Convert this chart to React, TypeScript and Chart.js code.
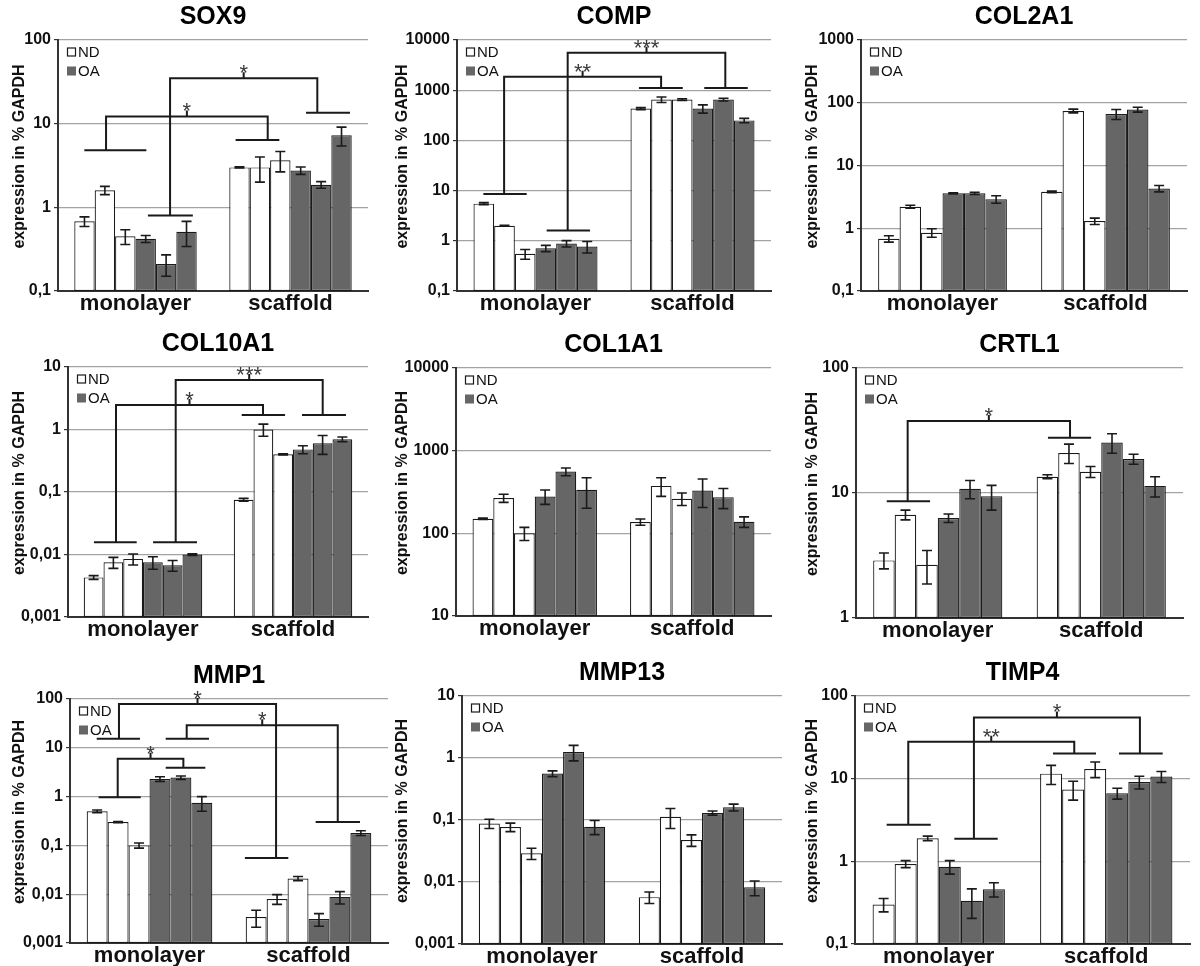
import React, { useEffect, useRef } from 'react';
import { Chart, registerables } from 'chart.js';

Chart.register(...registerables);

const FONT = '"Liberation Sans", Arial, Helvetica, sans-serif';

const categories = ['monolayer', 'scaffold'];
const groups = ['ND', 'OA'];
const yAxisTitle = 'expression in % GAPDH';

// ---- SOX9 ----
const sox9Ticks = [0.1, 1, 10, 100];
const sox9Mono = [0.68, 1.6, 0.45, 0.42, 0.21, 0.51];
const sox9MonoErr = [0.09, 0.18, 0.09, 0.04, 0.06, 0.17];
const sox9Scaf = [3.0, 3.0, 3.65, 2.76, 1.86, 7.25];
const sox9ScafErr = [0.05, 1.0, 1.0, 0.28, 0.17, 1.85];
const sox9Lines: [number, number, number][] = [[-0.33, 0.07, 4.8], [0.08, 0.37, 0.8], [0.646, 0.928, 6.4], [1.1, 1.384, 13.5]];
const sox9Brackets: [number, number, number, number, number, string][] = [[-0.19, 0, 0.853, 2, 12.2, '*'], [0.223, 1, 1.173, 3, 35, '*']];

// ---- COMP ----
const compTicks = [0.1, 1, 10, 100, 1000, 10000];
const compMono = [5.5, 2.0, 0.55, 0.71, 0.88, 0.77];
const compMonoErr = [0.25, 0.03, 0.12, 0.1, 0.13, 0.2];
const compScaf = [430, 650, 650, 430, 650, 250];
const compScafErr = [20, 80, 25, 80, 40, 25];
const compLines: [number, number, number][] = [[-0.332, -0.056, 8.6], [0.071, 0.347, 1.6], [0.659, 0.938, 1110], [1.075, 1.352, 1110]];
const compBrackets: [number, number, number, number, number, string][] = [[-0.2, 0, 0.8, 2, 1850, '**'], [0.205, 1, 1.209, 3, 5580, '***']];

// ---- COL2A1 ----
const col2Ticks = [0.1, 1, 10, 100, 1000];
const col2Mono = [0.68, 2.2, 0.85, 3.6, 3.6, 2.9];
const col2MonoErr = [0.08, 0.12, 0.13, 0.08, 0.15, 0.4];
const col2Scaf = [3.8, 74, 1.3, 66, 78, 4.3];
const col2ScafErr = [0.1, 5, 0.15, 12, 7, 0.5];

// ---- COL10A1 ----
const col10Ticks = [0.001, 0.01, 0.1, 1, 10];
const col10Mono = [0.0043, 0.0075, 0.0085, 0.0075, 0.0067, 0.01];
const col10MonoErr = [0.0003, 0.0015, 0.0017, 0.0017, 0.0013, 0.0003];
const col10Scaf = [0.075, 1.0, 0.4, 0.48, 0.6, 0.7];
const col10ScafErr = [0.004, 0.22, 0.01, 0.07, 0.2, 0.06];
const col10Lines: [number, number, number][] = [[-0.327, -0.042, 0.0157], [0.067, 0.36, 0.0157], [0.658, 0.947, 1.7], [1.06, 1.353, 1.7]];
const col10Brackets: [number, number, number, number, number, string][] = [[-0.18, 0, 0.8, 2, 2.47, '*'], [0.218, 1, 1.198, 3, 6.2, '***']];

// ---- COL1A1 ----
const col1Ticks = [10, 100, 1000, 10000];
const col1Mono = [150, 267, 100, 279, 558, 336];
const col1MonoErr = [3, 30, 18, 55, 60, 135];
const col1Scaf = [137, 375, 262, 330, 274, 138];
const col1ScafErr = [12, 95, 45, 125, 75, 20];

// ---- CRTL1 ----
const crtlTicks = [1, 10, 100];
const crtlMono = [2.89, 6.7, 2.67, 6.3, 10.8, 9.4];
const crtlMonoErr = [0.42, 0.6, 0.8, 0.5, 1.8, 2.1];
const crtlScaf = [13.5, 20.9, 14.8, 25.3, 18.7, 11.4];
const crtlScafErr = [0.5, 3.7, 1.5, 4.5, 1.7, 2.1];
const crtlLines: [number, number, number][] = [[-0.312, -0.047, 8.6], [0.674, 0.938, 27.7]];
const crtlBrackets: [number, number, number, number, number, string][] = [[-0.184, 0, 0.809, 1, 37.7, '*']];

// ---- MMP1 ----
const mmp1Ticks = [0.001, 0.01, 0.1, 1, 10, 100];
const mmp1Mono = [0.5, 0.3, 0.1, 2.3, 2.45, 0.75];
const mmp1MonoErr = [0.03, 0.008, 0.012, 0.25, 0.2, 0.25];
const mmp1Scaf = [0.0034, 0.008, 0.021, 0.0031, 0.0088, 0.18];
const mmp1ScafErr = [0.0013, 0.0018, 0.002, 0.0009, 0.0025, 0.02];
const mmp1Lines: [number, number, number][] = [[-0.32, -0.055, 0.97], [0.102, 0.351, 3.9], [-0.332, -0.06, 15.3], [0.102, 0.374, 15.3], [0.6, 0.873, 0.055], [1.045, 1.324, 0.3]];
const mmp1Brackets: [number, number, number, number, number, string][] = [[-0.2, 0, 0.213, 1, 6.0, '*'], [-0.192, 2, 0.796, 4, 79, '*'], [0.234, 3, 1.184, 5, 29, '*']];

// ---- MMP13 ----
const mmp13Ticks = [0.001, 0.01, 0.1, 1, 10];
const mmp13Mono = [0.088, 0.077, 0.029, 0.56, 1.25, 0.078];
const mmp13MonoErr = [0.015, 0.012, 0.006, 0.06, 0.35, 0.02];
const mmp13Scaf = [0.0057, 0.113, 0.0475, 0.13, 0.16, 0.0082];
const mmp13ScafErr = [0.0012, 0.04, 0.01, 0.01, 0.02, 0.0022];

// ---- TIMP4 ----
const timp4Ticks = [0.1, 1, 10, 100];
const timp4Mono = [0.3, 0.93, 1.9, 0.86, 0.334, 0.46];
const timp4MonoErr = [0.055, 0.09, 0.12, 0.16, 0.13, 0.09];
const timp4Scaf = [11.5, 7.4, 13.1, 6.65, 9.1, 10.6];
const timp4ScafErr = [3, 1.9, 2.8, 1, 1.6, 1.6];
const timp4Lines: [number, number, number][] = [[-0.311, -0.048, 2.78], [0.093, 0.352, 1.88], [0.682, 0.939, 20.2], [1.076, 1.337, 20.2]];
const timp4Brackets: [number, number, number, number, number, string][] = [[-0.182, 0, 0.809, 2, 28, '**'], [0.21, 1, 1.201, 3, 55, '*']];

interface PanelData {
  title: string;
  ticks: number[];
  mono: number[];
  monoErr: number[];
  scaf: number[];
  scafErr: number[];
  lines: [number, number, number][];
  brackets: [number, number, number, number, number, string][];
}

const panels: PanelData[] = [
  { title: 'SOX9', ticks: sox9Ticks, mono: sox9Mono, monoErr: sox9MonoErr, scaf: sox9Scaf, scafErr: sox9ScafErr, lines: sox9Lines, brackets: sox9Brackets },
  { title: 'COMP', ticks: compTicks, mono: compMono, monoErr: compMonoErr, scaf: compScaf, scafErr: compScafErr, lines: compLines, brackets: compBrackets },
  { title: 'COL2A1', ticks: col2Ticks, mono: col2Mono, monoErr: col2MonoErr, scaf: col2Scaf, scafErr: col2ScafErr, lines: [], brackets: [] },
  { title: 'COL10A1', ticks: col10Ticks, mono: col10Mono, monoErr: col10MonoErr, scaf: col10Scaf, scafErr: col10ScafErr, lines: col10Lines, brackets: col10Brackets },
  { title: 'COL1A1', ticks: col1Ticks, mono: col1Mono, monoErr: col1MonoErr, scaf: col1Scaf, scafErr: col1ScafErr, lines: [], brackets: [] },
  { title: 'CRTL1', ticks: crtlTicks, mono: crtlMono, monoErr: crtlMonoErr, scaf: crtlScaf, scafErr: crtlScafErr, lines: crtlLines, brackets: crtlBrackets },
  { title: 'MMP1', ticks: mmp1Ticks, mono: mmp1Mono, monoErr: mmp1MonoErr, scaf: mmp1Scaf, scafErr: mmp1ScafErr, lines: mmp1Lines, brackets: mmp1Brackets },
  { title: 'MMP13', ticks: mmp13Ticks, mono: mmp13Mono, monoErr: mmp13MonoErr, scaf: mmp13Scaf, scafErr: mmp13ScafErr, lines: [], brackets: [] },
  { title: 'TIMP4', ticks: timp4Ticks, mono: timp4Mono, monoErr: timp4MonoErr, scaf: timp4Scaf, scafErr: timp4ScafErr, lines: timp4Lines, brackets: timp4Brackets },
];

// ---- layout (page pixels) ----
const colBounds = [[0, 390], [390, 795], [795, 1200]];
const rowBounds = [[0, 322], [322, 644], [644, 966]];
const yTitleCenter = [20, 403, 813];
// [axisX, plotRight, plotTop, plotBottom]
const plotBoxes = [
  [58, 368, 40, 291], [457, 771, 40, 291], [861, 1187, 40, 291],
  [68, 368, 367, 617], [456, 771, 368, 616], [856, 1183, 368, 618],
  [70, 388, 699, 943], [462, 782, 696, 944], [855, 1190, 696, 944],
];

const WHITE = '#ffffff';
const GRAY = '#666666';
const INK = '#1a1a1a';

const fmt = (v: number) => String(v).replace('.', ',');

function Panel({ data, index }: { data: PanelData; index: number }) {
  const ref = useRef<HTMLCanvasElement>(null);
  const col = index % 3;
  const row = Math.floor(index / 3);
  const [cl, cr] = colBounds[col];
  const [rt, rb] = rowBounds[row];
  const w = cr - cl;
  const h = rb - rt;
  const [axisX, plotRight, plotTop, plotBottom] = plotBoxes[index];

  useEffect(() => {
    const canvas = ref.current!;
    const datasets = [0, 1, 2, 3, 4, 5].map((i) => ({
      label: groups[i < 3 ? 0 : 1],
      data: [data.mono[i], data.scaf[i]],
      backgroundColor: i < 3 ? WHITE : GRAY,
      borderColor: INK,
      borderWidth: 1.2,
      borderSkipped: false,
      categoryPercentage: 0.79,
      barPercentage: 1.0,
    }));

    const overlay = {
      id: 'overlay',
      afterDatasetsDraw(chart: any) {
        const ctx = chart.ctx;
        const xs = chart.scales.x;
        const ys = chart.scales.y;
        ctx.save();
        // error bars
        ctx.strokeStyle = INK;
        ctx.lineWidth = 1.6;
        for (let i = 0; i < 6; i++) {
          const meta = chart.getDatasetMeta(i);
          meta.data.forEach((el: any, j: number) => {
            const v = j === 0 ? data.mono[i] : data.scaf[i];
            const e = j === 0 ? data.monoErr[i] : data.scafErr[i];
            const yT = ys.getPixelForValue(v + e);
            const yB = ys.getPixelForValue(Math.max(v - e, ys.min));
            const x = el.x;
            ctx.beginPath();
            ctx.moveTo(x, yT);
            ctx.lineTo(x, yB);
            ctx.moveTo(x - 5, yT);
            ctx.lineTo(x + 5, yT);
            ctx.moveTo(x - 5, yB);
            ctx.lineTo(x + 5, yB);
            ctx.stroke();
          });
        }
        // group lines
        ctx.lineWidth = 2;
        ctx.strokeStyle = INK;
        data.lines.forEach(([x1, x2, v]) => {
          const y = ys.getPixelForValue(v);
          ctx.beginPath();
          ctx.moveTo(xs.getPixelForValue(x1), y);
          ctx.lineTo(xs.getPixelForValue(x2), y);
          ctx.stroke();
        });
        // brackets
        data.brackets.forEach(([xl, li, xr, ri, top, label]) => {
          const yT = ys.getPixelForValue(top);
          const yl = ys.getPixelForValue(data.lines[li][2]);
          const yr = ys.getPixelForValue(data.lines[ri][2]);
          const pl = xs.getPixelForValue(xl);
          const pr = xs.getPixelForValue(xr);
          const xm = (pl + pr) / 2;
          ctx.beginPath();
          ctx.moveTo(pl, yl);
          ctx.lineTo(pl, yT);
          ctx.lineTo(pr, yT);
          ctx.lineTo(pr, yr);
          ctx.moveTo(xm, yT);
          ctx.lineTo(xm, yT - 6);
          ctx.stroke();
          ctx.fillStyle = '#3a3a3a';
          ctx.font = `22px ${FONT}`;
          ctx.textAlign = 'center';
          ctx.textBaseline = 'alphabetic';
          ctx.fillText(label, xm, yT + 2);
        });
        ctx.restore();
      },
      afterDraw(chart: any) {
        const ctx = chart.ctx;
        const a = chart.chartArea;
        ctx.save();
        // title
        ctx.fillStyle = '#000';
        ctx.font = `bold 25px ${FONT}`;
        ctx.textAlign = 'center';
        ctx.textBaseline = 'middle';
        ctx.fillText(data.title, (a.left + a.right) / 2, a.top - 23);
        // y axis title
        ctx.save();
        ctx.translate(yTitleCenter[col] - cl, (a.top + a.bottom) / 2 - 9);
        ctx.rotate(-Math.PI / 2);
        ctx.font = `bold 16px ${FONT}`;
        ctx.fillStyle = '#111';
        ctx.textAlign = 'center';
        ctx.textBaseline = 'middle';
        ctx.fillText(yAxisTitle, 0, 0);
        ctx.restore();
        // legend
        ctx.font = `15px ${FONT}`;
        ctx.textAlign = 'left';
        ctx.textBaseline = 'middle';
        groups.forEach((g, k) => {
          const cy = a.top + 12 + k * 19;
          ctx.fillStyle = k === 0 ? WHITE : GRAY;
          ctx.fillRect(a.left + 9, cy - 4.5, 9, 9);
          if (k === 0) {
            ctx.strokeStyle = INK;
            ctx.lineWidth = 1.2;
            ctx.strokeRect(a.left + 9.5, cy - 4, 8, 8);
          }
          ctx.fillStyle = '#111';
          ctx.fillText(g, a.left + 20, cy + 1);
        });
        ctx.restore();
      },
    };

    const ticks = data.ticks;
    const chart = new Chart(canvas, {
      type: 'bar',
      data: { labels: categories, datasets },
      options: {
        responsive: false,
        animation: false,
        devicePixelRatio: 1,
        events: [],
        layout: { padding: { left: 0, top: plotTop - rt, right: cr - plotRight, bottom: 0 } },
        plugins: { legend: { display: false }, tooltip: { enabled: false }, title: { display: false } },
        scales: {
          x: {
            type: 'category',
            grid: { display: false, drawTicks: false },
            border: { display: true, color: '#333', width: 2 },
            ticks: { color: '#111', font: { family: FONT, size: 22, weight: 'bold' }, padding: 0, maxRotation: 0 },
            afterFit: (s: any) => { s.height = rb - plotBottom; },
          },
          y: {
            type: 'logarithmic',
            min: ticks[0],
            max: ticks[ticks.length - 1],
            afterBuildTicks: (s: any) => { s.ticks = ticks.map((v) => ({ value: v })); },
            afterFit: (s: any) => { s.width = axisX - cl; },
            ticks: {
              autoSkip: false,
              color: '#111',
              font: { family: FONT, size: 16, weight: 'bold' },
              padding: 3,
              callback: (v: any) => fmt(Number(v)),
            },
            grid: { color: '#a3a3a3', lineWidth: 1.2, tickColor: '#333', tickLength: 4, drawTicks: true },
            border: { display: true, color: '#333', width: 2 },
            title: { display: false },
          },
        },
      } as any,
      plugins: [overlay],
    });
    return () => chart.destroy();
  }, []);

  return (
    <canvas
      ref={ref}
      width={w}
      height={h}
      style={{ position: 'absolute', left: cl, top: rt, width: w, height: h, display: 'block' }}
    />
  );
}

export default function App() {
  return (
    <div style={{ position: 'absolute', left: 0, top: 0, width: 1200, height: 966, background: '#fff', overflow: 'hidden' }}>
      {panels.map((p, i) => (
        <Panel key={p.title} data={p} index={i} />
      ))}
    </div>
  );
}
